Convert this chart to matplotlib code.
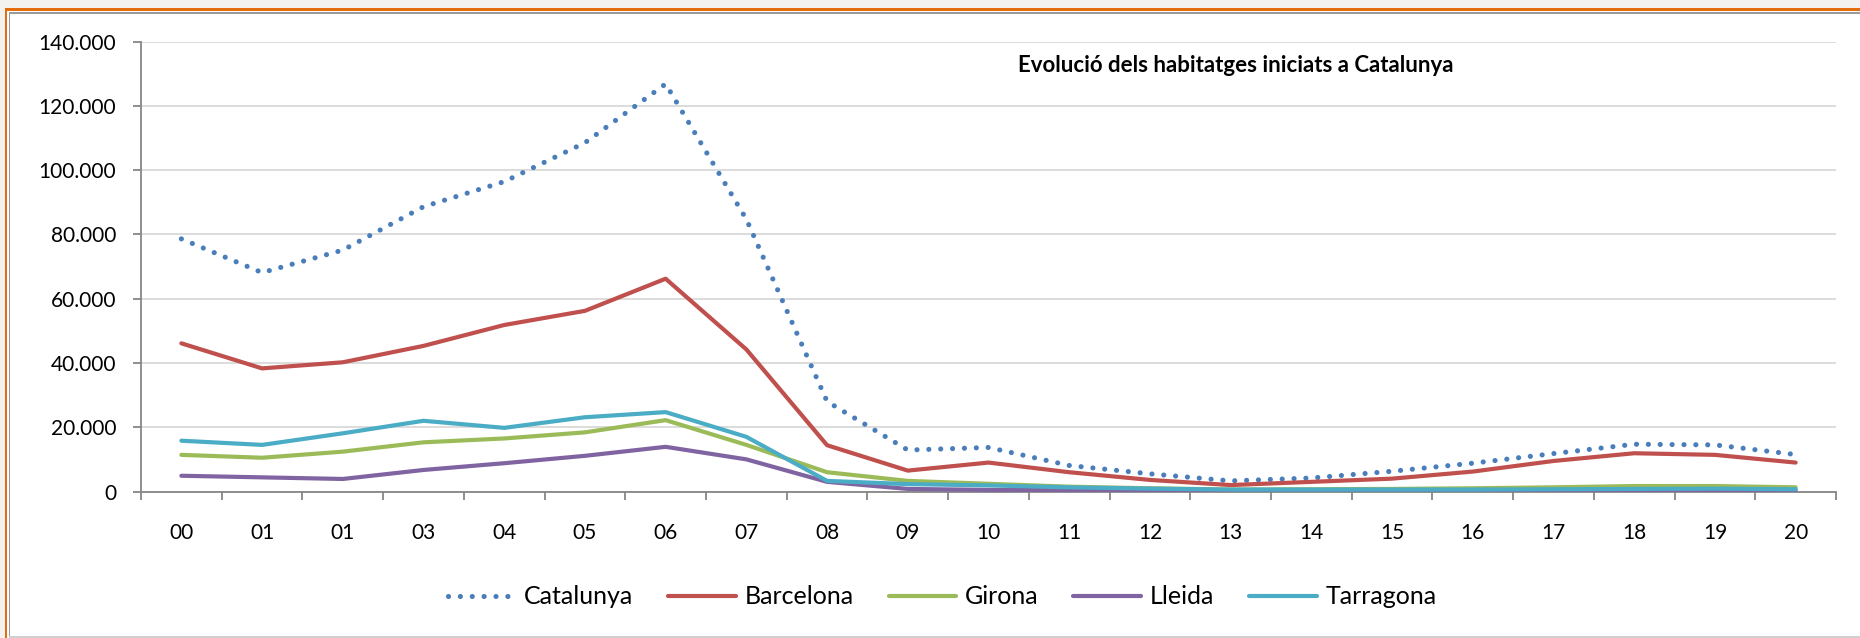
import matplotlib
matplotlib.use("Agg")
import matplotlib.pyplot as plt
from matplotlib.patches import Rectangle
from matplotlib.ticker import FixedLocator, FuncFormatter

plt.rcParams['font.family'] = ['Lato', 'DejaVu Sans']

categories = ["00", "01", "01", "03", "04", "05", "06", "07", "08", "09", "10",
              "11", "12", "13", "14", "15", "16", "17", "18", "19", "20"]
catalunya = [78600, 68100, 75100, 88600, 96400, 108500, 126800, 84700, 28000, 12900, 13700,
             8100, 5500, 3300, 4200, 6300, 8800, 11800, 14700, 14500, 11500]
barcelona = [46100, 38300, 40200, 45300, 51800, 56200, 66200, 44200, 14400, 6500, 9000,
             6000, 3600, 2000, 3000, 4000, 6200, 9500, 11900, 11400, 9000]
girona = [11400, 10500, 12400, 15300, 16500, 18400, 22200, 14500, 6000, 3300, 2400,
          1500, 1000, 600, 700, 800, 1000, 1300, 1700, 1700, 1300]
lleida = [4900, 4400, 3900, 6700, 8800, 11100, 13900, 10000, 3000, 800, 500,
          400, 300, 300, 300, 300, 400, 400, 500, 500, 400]
tarragona = [15800, 14500, 18100, 22000, 19800, 23100, 24700, 17000, 3300, 2300, 1900,
             1300, 900, 600, 600, 600, 600, 700, 800, 900, 700]

series_names = ["Catalunya", "Barcelona", "Girona", "Lleida", "Tarragona"]
colors = ["#4A7EBB", "#C0504D", "#9BBB59", "#8064A2", "#4BACC6"]
title = "Evolució dels habitatges iniciats a Catalunya"

W, H = 1860, 638
fig = plt.figure(figsize=(W / 100, H / 100), dpi=100)
fig.patch.set_facecolor("white")

def px_rect(x0, y0, x1, y1, color):
    # pixel coords measured from top-left
    fig.add_artist(Rectangle((x0 / W, 1 - y1 / H), (x1 - x0) / W, (y1 - y0) / H,
                             transform=fig.transFigure, facecolor=color,
                             edgecolor="none", zorder=-5))

px_rect(0, 0, W, 8, "#F3F2EE")
px_rect(0, 0, 4.7, H, "#F3F2EE")
px_rect(4.7, 8, W, 10.5, "#E46C0A")
px_rect(4.7, 8, 7.2, H, "#E46C0A")
px_rect(8.7, 12, W, 13.7, "#9A9A9A")
px_rect(8.7, 12, 10.3, H, "#9A9A9A")
px_rect(8.7, 636.3, W, H, "#D0D0D0")

left, right, top, bottom = 141, 1836, 41.5, 491.5
ax = fig.add_axes([left / W, 1 - bottom / H, (right - left) / W, (bottom - top) / H])
ax.set_facecolor("none")

x = list(range(len(categories)))
data = [catalunya, barcelona, girona, lleida, tarragona]
for name, vals, c in zip(series_names, data, colors):
    if name == "Catalunya":
        ax.plot(x, vals, color=c, lw=3.7, linestyle=(0, (0.01, 2.3)),
                dash_capstyle="round", label=name, zorder=3)
    else:
        ax.plot(x, vals, color=c, lw=3.0, solid_joinstyle="round",
                solid_capstyle="round", label=name, zorder=3)

ax.set_xlim(-0.5, len(categories) - 0.5)
ax.set_ylim(0, 140000)
ax.yaxis.set_major_locator(FixedLocator(list(range(0, 140001, 20000))))
ax.yaxis.set_major_formatter(FuncFormatter(lambda v, p: f"{int(v):,}".replace(",", ".")))
ax.set_xticks(x)
ax.set_xticklabels(categories)
ax.set_xticks([i - 0.5 for i in range(len(categories) + 1)], minor=True)

ax.grid(axis="y", color="#D9D9D9", lw=1.3, zorder=0)
ax.set_axisbelow(True)
for s in ["top", "right"]:
    ax.spines[s].set_visible(False)
for s in ["left", "bottom"]:
    ax.spines[s].set_color("#868686")
    ax.spines[s].set_linewidth(1.3)

ax.tick_params(axis="y", which="major", length=6, width=1.3, color="#868686",
               labelsize=15, pad=12, labelcolor="black")
ax.tick_params(axis="x", which="major", length=0, labelsize=15, pad=23, labelcolor="black")
ax.tick_params(axis="x", which="minor", length=6, width=1.3, color="#868686")

fig.text(1236 / W, 1 - 65 / H, title, ha="center", va="center",
         fontsize=16, fontweight="bold", color="black")

leg = fig.legend(loc="center", bbox_to_anchor=(942 / W, 1 - 597 / H), ncol=5,
                 frameon=False, fontsize=18, handlelength=2.7, handletextpad=0.35,
                 columnspacing=1.4)

fig.savefig("out.png", dpi=100)
